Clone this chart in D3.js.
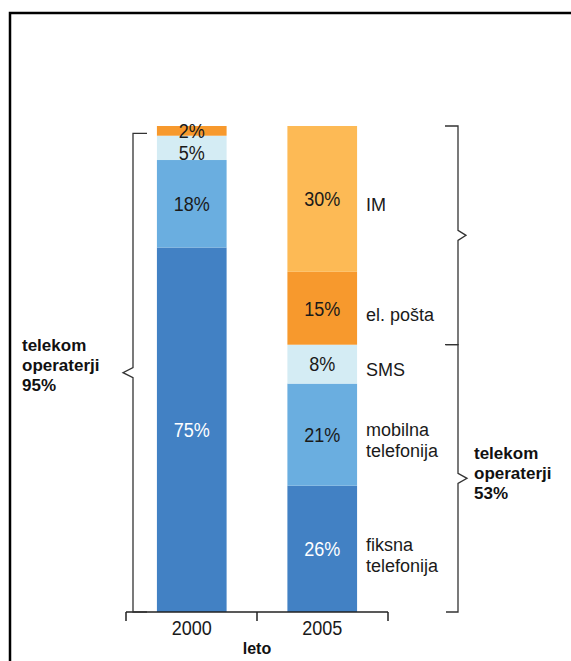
<!DOCTYPE html>
<html>
<head>
<meta charset="utf-8">
<script src="https://cdn.jsdelivr.net/npm/d3@7"></script>
<style>
  body { margin: 0; background: #fff; }
  svg { display: block; }
  text { font-family: "Liberation Sans", Arial, sans-serif; }
  .bold { font-weight: bold; }
</style>
</head>
<body>
<svg id="chart" width="571" height="661"></svg>
<script>
// data
const years = ["2000", "2005"];
const categories = ["fiksna telefonija", "mobilna telefonija", "SMS", "el. pošta", "IM"];
const values2000 = [75, 18, 5, 2, 0];
const values2005 = [26, 21, 8, 15, 30];
const colors = ["#4281c4", "#6aaee0", "#d4ecf4", "#f7992d", "#fdba55"];
const textColors = ["#fff", "#1a1a1a", "#1a1a1a", "#1a1a1a", "#1a1a1a"];
// braces: from %, to % of the stack they span
const braceLeft = [0, 98.5];
const braceLeftText = ["telekom", "operaterji", "95%"];
const braceRightTop = [55, 100];
const braceRightBottom = [0, 55];
const braceRightText = ["telekom", "operaterji", "53%"];
const axisTitle = "leto";

const svg = d3.select('#chart');
const narrow = 0.86; // condensed look of the numbers

// frame round the whole thing
svg.append('rect')
    .attr('x', 10).attr('y', 13)
    .attr('width', 700).attr('height', 800)
    .attr('fill', 'none')
    .attr('stroke', '#000')
    .attr('stroke-width', 2.5);

const rows = years.map(function (yr, i) {
    const r = { year: yr };
    const vals = i === 0 ? values2000 : values2005;
    categories.forEach(function (c, j) { r[c] = vals[j]; });
    return r;
});

const series = d3.stack().keys(categories)(rows);

const x = d3.scaleBand()
    .domain(years)
    .range([126, 388])
    .paddingInner(0.466)
    .paddingOuter(0.237);

const y = d3.scaleLinear()
    .domain([0, 100])
    .range([612, 126]);

// bars
const layer = svg.selectAll('g.layer')
    .data(series)
    .join('g')
    .attr('class', 'layer')
    .attr('fill', function (d, i) { return colors[i]; });

layer.selectAll('rect')
    .data(function (d) { return d; })
    .join('rect')
    .attr('x', function (d) { return x(d.data.year); })
    .attr('y', function (d) { return y(d[1]); })
    .attr('width', x.bandwidth())
    .attr('height', function (d) { return y(d[0]) - y(d[1]); });

// percent labels, top-down so small segments don't collide
years.forEach(function (yr, b) {
    let prev = -Infinity;
    for (let i = series.length - 1; i >= 0; i--) {
        const d = series[i][b];
        const v = d[1] - d[0];
        if (v <= 0) continue;
        let ly = (y(d[0]) + y(d[1])) / 2;
        ly = Math.max(ly, prev + 22);
        prev = ly;
        svg.append('text')
            .attr('transform', `translate(${x(yr) + x.bandwidth() / 2},${ly}) scale(${narrow},1)`)
            .attr('dy', '0.35em')
            .attr('text-anchor', 'middle')
            .attr('font-size', 21)
            .attr('fill', textColors[i])
            .text(v + '%');
    }
});

// category names beside the 2005 bar
const last = years[years.length - 1];
series.forEach(function (s, i) {
    const d = s[s.length - 1];
    const mid = (y(d[0]) + y(d[1])) / 2 + 6;
    let words = categories[i].split(' ');
    if (categories[i] === "el. pošta") words = [categories[i]];
    const t = svg.append('text')
        .attr('font-size', 18)
        .attr('fill', '#1a1a1a');
    words.forEach(function (w, k) {
        t.append('tspan')
            .attr('x', x(last) + x.bandwidth() + 9)
            .attr('y', mid + (k - (words.length - 1) / 2) * 21)
            .attr('dy', '0.35em')
            .text(w);
    });
});

// x axis, ticks at band edges
const axisY = y(0);
svg.append('line')
    .attr('x1', x.range()[0]).attr('x2', x.range()[1])
    .attr('y1', axisY).attr('y2', axisY)
    .attr('stroke', '#222').attr('stroke-width', 1.5);

const edges = years.map(function (yr) { return x(yr) - x.step() * x.paddingInner() / 2; });
edges[0] = x.range()[0];
edges.push(x.range()[1]);
svg.selectAll('line.tick')
    .data(edges)
    .join('line')
    .attr('class', 'tick')
    .attr('x1', function (d) { return d; }).attr('x2', function (d) { return d; })
    .attr('y1', axisY).attr('y2', axisY + 9)
    .attr('stroke', '#222').attr('stroke-width', 1.5);

svg.selectAll('text.year')
    .data(years)
    .join('text')
    .attr('class', 'year')
    .attr('transform', function (d) { return `translate(${x(d) + x.bandwidth() / 2},${axisY + 23}) scale(${narrow},1)`; })
    .attr('text-anchor', 'middle')
    .attr('font-size', 21)
    .attr('fill', '#1a1a1a')
    .text(function (d) { return d; });

svg.append('text')
    .attr('class', 'bold')
    .attr('x', (x.range()[0] + x.range()[1]) / 2)
    .attr('y', axisY + 42)
    .attr('text-anchor', 'middle')
    .attr('font-size', 16)
    .attr('fill', '#111')
    .text(axisTitle);

// braces
function brace(x0, span, dir, tickLen, depth) {
    // dir: -1 points left, +1 points right
    const top = y(span[1]), bot = y(span[0]);
    const mid = (top + bot) / 2;
    const p = d3.path();
    p.moveTo(x0 - dir * tickLen, top);
    p.lineTo(x0, top);
    p.lineTo(x0, mid - 5);
    p.lineTo(x0 + dir * depth, mid);
    p.lineTo(x0, mid + 5);
    p.lineTo(x0, bot);
    p.lineTo(x0 - dir * tickLen, bot);
    svg.append('path')
        .attr('d', p.toString())
        .attr('fill', 'none')
        .attr('stroke', '#333')
        .attr('stroke-width', 1.3);
    return mid;
}

const midL = brace(133, braceLeft, -1, 14, 10);
brace(458, braceRightTop, 1, 13, 8);
const midR = brace(458, braceRightBottom, 1, 12, 9);

function note(lines, x0, mid) {
    const t = svg.append('text')
        .attr('class', 'bold')
        .attr('font-size', 17)
        .attr('fill', '#111');
    lines.forEach(function (l, k) {
        t.append('tspan')
            .attr('x', x0)
            .attr('y', mid + (k - 1) * 20)
            .attr('dy', '0.35em')
            .text(l);
    });
}
note(braceLeftText, 22, midL - 8);
note(braceRightText, 474, midR - 5);
</script>
</body>
</html>
